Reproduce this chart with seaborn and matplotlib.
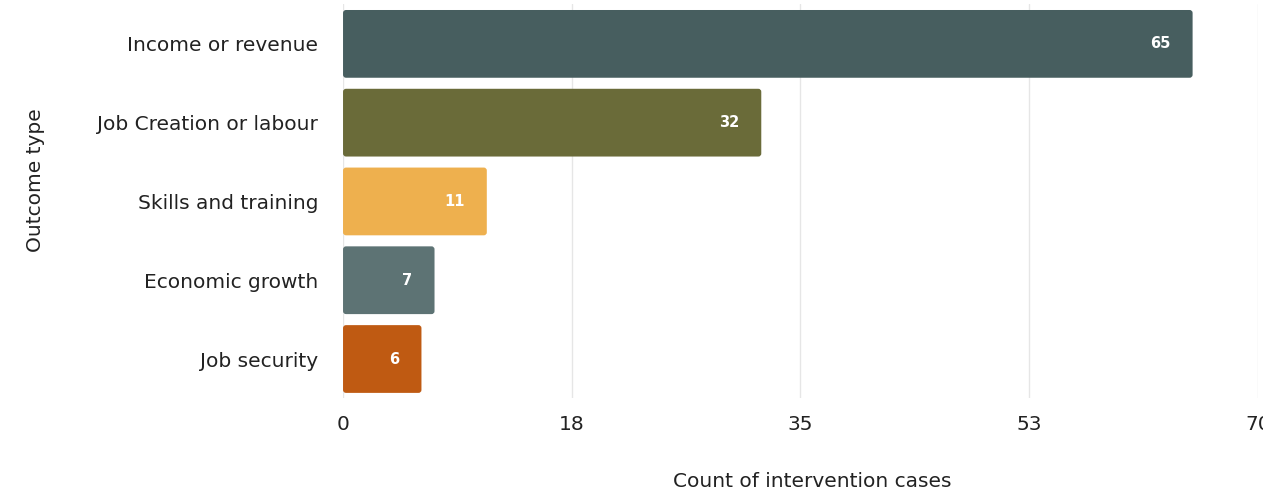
import matplotlib
matplotlib.use("Agg")
import matplotlib.pyplot as plt
from matplotlib.patches import FancyBboxPatch
import seaborn as sns
import pandas as pd

categories = ["Income or revenue", "Job Creation or labour", "Skills and training",
              "Economic growth", "Job security"]
counts = [65, 32, 11, 7, 6]
colors = ["#475E5F", "#6A6B39", "#EEB04E", "#5D7374", "#BF5A12"]
tick_values = [0, 17.5, 35, 52.5, 70]
tick_labels = ["0", "18", "35", "53", "70"]

sns.set_theme(style="white")
plt.rcParams['font.family'] = ['DejaVu Sans']

df = pd.DataFrame({"Outcome type": categories, "Count": counts})

fig = plt.figure(figsize=(12.63, 4.98), dpi=100)
ax = fig.add_axes([0.2716, 0.200, 0.7244, 0.791])

sns.barplot(data=df, x="Count", y="Outcome type", hue="Outcome type",
            palette=colors, saturation=1, width=0.86, legend=False, ax=ax,
            zorder=3, edgecolor="none")

ax.set_xlim(0, 70)
ax.set_ylim(4.5, -0.5)

# round the bar corners slightly
xpp = 70 / 915.0
ypp = 5 / 394.0
for p in list(ax.patches):
    x0, y0 = p.get_x(), p.get_y()
    w, h = p.get_width(), p.get_height()
    fb = FancyBboxPatch((x0, y0), w, h,
                        boxstyle="round,pad=0,rounding_size=%f" % (3 * xpp),
                        mutation_aspect=ypp / xpp,
                        facecolor=p.get_facecolor(), edgecolor="none", zorder=3)
    p.remove()
    ax.add_patch(fb)

for i, v in enumerate(counts):
    ax.text(v - 22 * xpp, i, str(v), ha="right", va="center", color="white",
            fontsize=10.5, fontweight="bold", zorder=4)

ax.set_xticks(tick_values)
ax.set_xticklabels(tick_labels)
ax.xaxis.grid(True, color="#E6E6E6", linewidth=1, zorder=0)
ax.yaxis.grid(False)
for s in ax.spines.values():
    s.set_visible(False)
ax.tick_params(axis="x", length=0, pad=12, labelsize=14.5, labelcolor="#222222")
ax.tick_params(axis="y", length=0, pad=18, labelsize=14.5, labelcolor="#222222")
ax.set_xlabel("Count of intervention cases", fontsize=14.5, color="#222222")
ax.set_ylabel("Outcome type", fontsize=14.5, color="#222222")
ax.xaxis.set_label_coords(0.513, -0.187)
ax.yaxis.set_label_coords(-0.326, 0.555)

fig.savefig("out.png", dpi=100)
